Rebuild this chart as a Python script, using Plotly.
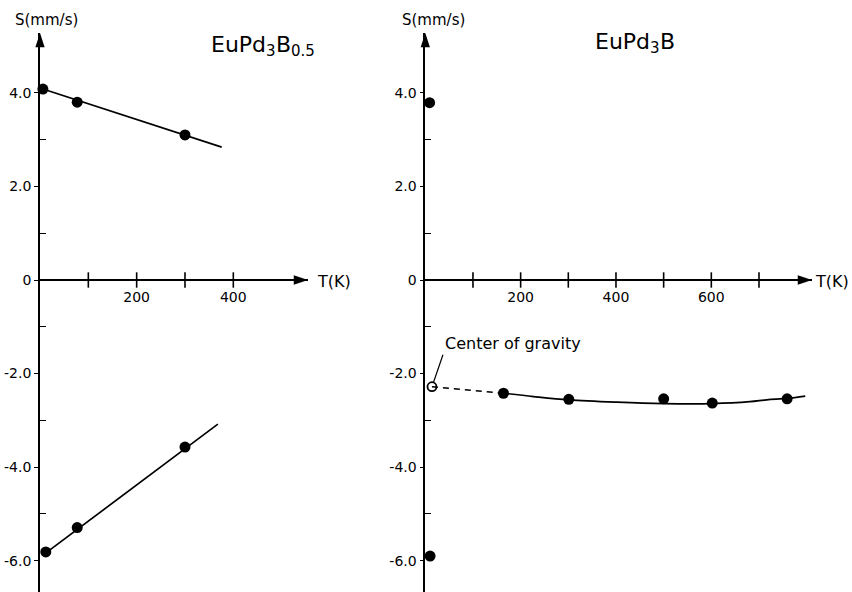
import plotly.graph_objects as go

# ---------------- data ----------------
# Left panel: EuPd3B0.5
left_T_upper = [6, 77, 300]
left_S_upper = [4.08, 3.80, 3.10]
left_fit_upper_T = [6, 376]
left_fit_upper_S = [4.08, 2.84]

left_T_lower = [12, 77, 300]
left_S_lower = [-5.81, -5.29, -3.57]
left_fit_lower_T = [6, 368]
left_fit_lower_S = [-5.88, -3.08]

# Right panel: EuPd3B
right_T_low = [9, 10]
right_S_low = [3.79, -5.90]
cog_T = [14]
cog_S = [-2.28]
right_T = [164, 301, 500, 602, 759]
right_S = [-2.42, -2.55, -2.54, -2.63, -2.54]
dash_T = [14, 164]
dash_S = [-2.28, -2.42]
curve_T = [164, 227, 301, 402, 501, 602, 681, 716, 759, 797]
curve_S = [-2.42, -2.49, -2.56, -2.61, -2.64, -2.64, -2.60, -2.56, -2.53, -2.48]

# axis ticks
left_xticks = [100, 200, 300, 400]
left_xlabel_vals = [200, 400]
left_xlabels = ["200", "400"]
right_xticks = [100, 200, 300, 400, 500, 600, 700]
right_xlabel_vals = [200, 400, 600]
right_xlabels = ["200", "400", "600"]
y_major = [-6, -4, -2, 0, 2, 4]
y_major_labels = ["-6.0", "-4.0", "-2.0", "0", "2.0", "4.0"]
y_minor = [-5, -3, -1, 1, 3]

# title pieces (formula with subscripts)
left_title = [("EuPd", False), ("3", True), ("B", False), ("0.5", True)]
right_title = [("EuPd", False), ("3", True), ("B", False)]

# ---------------- geometry ----------------
W, H = 852, 592
FONT = "DejaVu Sans"
S_RANGE = [-6.667, 5.278]
Y_DOM = [0, 1 - 33 / H]
X_AXIS_POS = (H - 280) / H
left_Tmax = (308 - 40) / 0.4833
right_Tmax = (812 - 425.3) / 0.4767

fig = go.Figure()

BLACK = "black"
mk = dict(color=BLACK, size=11)


def add(x, y, xa, ya, **kw):
    fig.add_trace(go.Scatter(x=x, y=y, xaxis=xa, yaxis=ya, showlegend=False,
                             hoverinfo="skip", cliponaxis=False, **kw))


tickmk = dict(symbol="line-ns-open", size=11, color=BLACK, line=dict(color=BLACK, width=1.6))

# left panel
add(left_fit_upper_T, left_fit_upper_S, "x", "y", mode="lines", line=dict(color=BLACK, width=1.7))
add(left_fit_lower_T, left_fit_lower_S, "x", "y", mode="lines", line=dict(color=BLACK, width=1.7))
add(left_T_upper, left_S_upper, "x", "y", mode="markers", marker=mk)
add(left_T_lower, left_S_lower, "x", "y", mode="markers", marker=mk)
add(left_xticks, [0] * len(left_xticks), "x", "y", mode="markers", marker=tickmk)

# right panel
add(dash_T, dash_S, "x2", "y2", mode="lines", line=dict(color=BLACK, width=1.5, dash="6px,5px"))
add(curve_T, curve_S, "x2", "y2", mode="lines", line=dict(color=BLACK, width=1.7, shape="spline"))
add(right_T, right_S, "x2", "y2", mode="markers", marker=mk)
add(right_T_low, right_S_low, "x2", "y2", mode="markers", marker=mk)
add(cog_T, cog_S, "x2", "y2", mode="markers",
    marker=dict(symbol="circle-open", size=9, color=BLACK, line=dict(width=1.8)))
add(right_xticks, [0] * len(right_xticks), "x2", "y2", mode="markers", marker=tickmk)

# axis arrow heads (tip of 'arrow' symbol sits on the point)
for xa, ya, tmax in (("x", "y", left_Tmax), ("x2", "y2", right_Tmax)):
    add([0], [S_RANGE[1]], xa, ya, mode="markers",
        marker=dict(symbol="arrow", angle=0, size=15, color=BLACK, line=dict(width=0)))
    add([tmax], [0], xa, ya, mode="markers",
        marker=dict(symbol="arrow", angle=90, size=15, color=BLACK, line=dict(width=0)))

tickfont = dict(family=FONT, size=14, color=BLACK)

xcommon = dict(showline=True, linecolor=BLACK, linewidth=1.6, showgrid=False, zeroline=False,
               ticks="", tickfont=tickfont, anchor="free", position=X_AXIS_POS,
               tickmode="array", ticklabelstandoff=4)
ycommon = dict(showline=True, linecolor=BLACK, linewidth=1.6, showgrid=False, zeroline=False,
               range=S_RANGE, domain=Y_DOM, tickmode="array", tickvals=y_major,
               ticktext=y_major_labels, ticks="outside", ticklen=4, tickwidth=1.4,
               tickcolor=BLACK, tickfont=tickfont,
               minor=dict(tickvals=y_minor, ticks="inside", ticklen=6, tickwidth=1.4,
                          tickcolor=BLACK))

fig.update_layout(
    width=W, height=H, margin=dict(l=0, r=0, t=0, b=0),
    paper_bgcolor="white", plot_bgcolor="rgba(0,0,0,0)",
    font=dict(family=FONT, color=BLACK),
    xaxis=dict(domain=[40 / W, 308 / W], range=[0, left_Tmax], tickvals=left_xlabel_vals,
               ticktext=left_xlabels, **xcommon),
    yaxis=dict(anchor="x", **ycommon),
    xaxis2=dict(domain=[425.3 / W, 812 / W], range=[0, right_Tmax], tickvals=right_xlabel_vals,
                ticktext=right_xlabels, **xcommon),
    yaxis2=dict(anchor="x2", **ycommon),
)

labfont = dict(family=FONT, size=15, color=BLACK)
tfont = dict(family=FONT, size=16, color=BLACK)
ann = [
    dict(x=46.5 / W, y=1 - 20 / H, xref="paper", yref="paper", text="S(mm/s)",
         showarrow=False, font=labfont, xanchor="center", yanchor="middle"),
    dict(x=433.5 / W, y=1 - 20 / H, xref="paper", yref="paper", text="S(mm/s)",
         showarrow=False, font=labfont, xanchor="center", yanchor="middle"),
    dict(x=315 / W, y=1 - 281 / H, xref="paper", yref="paper", text="T(K)",
         showarrow=False, font=tfont, xanchor="left", yanchor="middle"),
    dict(x=813 / W, y=1 - 281 / H, xref="paper", yref="paper", text="T(K)",
         showarrow=False, font=tfont, xanchor="left", yanchor="middle"),
    dict(x=cog_T[0], y=cog_S[0], xref="x2", yref="y2", text="Center of gravity",
         showarrow=True, arrowhead=0, arrowwidth=1.2, arrowcolor=BLACK, ax=11, ay=-32,
         xanchor="left", yanchor="bottom", standoff=5,
         font=dict(family=FONT, size=16, color=BLACK)),
]

# formula titles laid out piece by piece (DejaVu Sans advance widths, em units)
ADV = {"E": 0.632, "u": 0.634, "P": 0.603, "d": 0.635, "B": 0.686,
       "0": 0.636, "3": 0.636, "5": 0.636, ".": 0.318}
MAIN, SUB = 22, 15


def title(pieces, cx, cy):
    widths = [sum(ADV[c] for c in t) * (SUB if s else MAIN) for t, s in pieces]
    x = cx - sum(widths) / 2
    for (t, s), w in zip(pieces, widths):
        ann.append(dict(x=x / W, y=1 - (cy + (7 if s else 0)) / H, xref="paper", yref="paper",
                        text=t, showarrow=False, xanchor="left", yanchor="middle",
                        borderpad=0, font=dict(family=FONT, size=SUB if s else MAIN, color=BLACK)))
        x += w


title(left_title, 262, 44)
title(right_title, 634, 41)

fig.update_layout(annotations=ann)

fig.write_html("out.html")
